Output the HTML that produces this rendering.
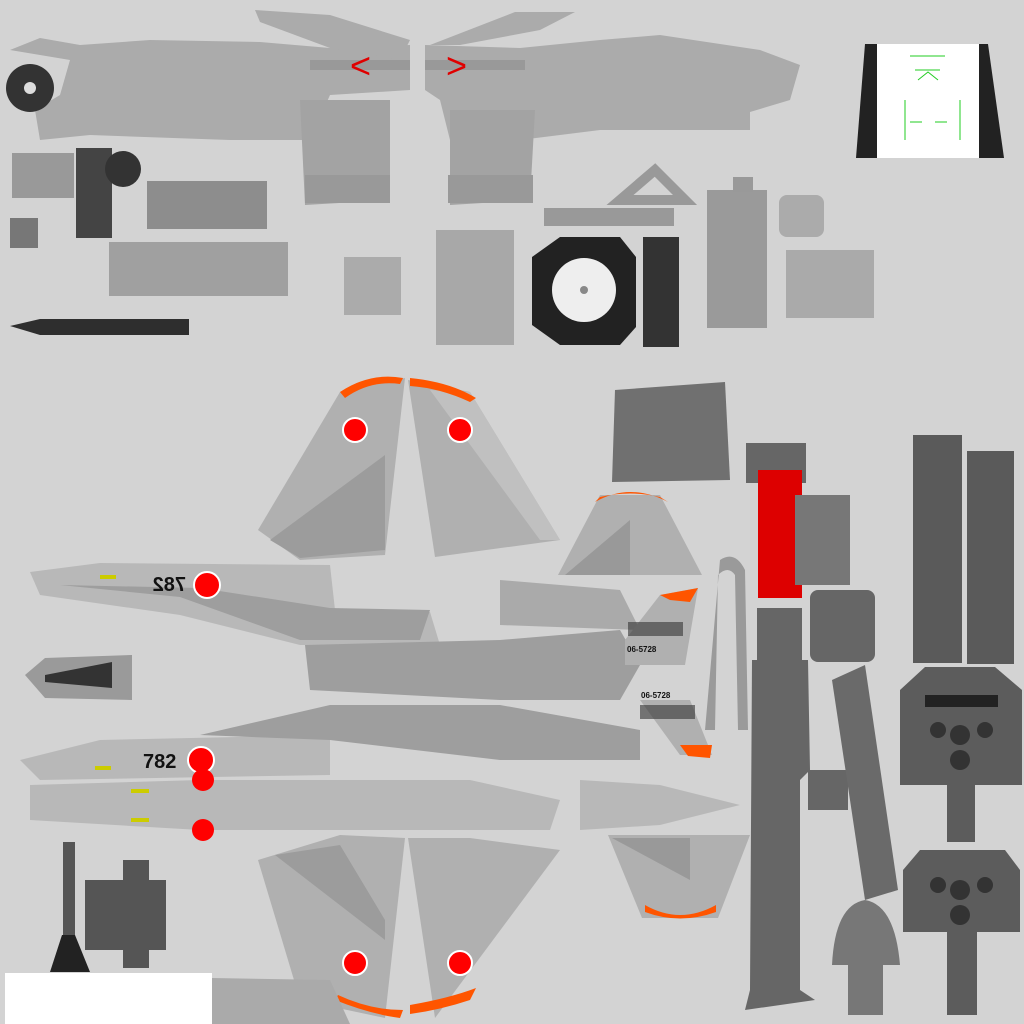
<!DOCTYPE html>
<html><head><meta charset="utf-8"><style>
html,body{margin:0;padding:0;background:#d3d3d3;width:1024px;height:1024px;overflow:hidden}
svg{display:block}
text{font-family:"Liberation Sans",sans-serif}
</style></head><body>
<svg width="1024" height="1024" viewBox="0 0 1024 1024" xmlns="http://www.w3.org/2000/svg">
<rect width="1024" height="1024" fill="#d3d3d3"/>
<g fill="#ababab">
<path d="M10,50 L40,38 L80,45 L150,40 L260,42 L330,48 L410,45 L410,90 L330,95 L310,140 L230,140 L90,135 L40,140 L35,110 L60,95 L70,60 Z"/>
<path d="M255,10 L330,15 L410,40 L400,60 L330,48 L260,22 Z"/>
<path d="M300,100 L390,100 L390,200 L305,205 Z" fill="#a3a3a3"/>
<path d="M425,45 L520,48 L600,40 L660,35 L760,50 L800,65 L790,100 L750,112 L750,130 L600,130 L520,140 L450,140 L440,100 L425,90 Z"/>
<path d="M515,12 L575,12 L540,30 L460,45 L430,45 Z"/>
<path d="M450,110 L535,110 L530,200 L450,205 Z" fill="#a3a3a3"/>
<rect x="310" y="60" width="100" height="10" fill="#999"/>
<rect x="425" y="60" width="100" height="10" fill="#999"/>
</g>
<rect x="305" y="175" width="85" height="28" fill="#999"/>
<rect x="448" y="175" width="85" height="28" fill="#999"/>
<text x="350" y="78" fill="#e00000" font-size="36">&lt;</text>
<text x="446" y="78" fill="#e00000" font-size="36">&gt;</text>
<polygon points="865,44 988,44 1004,158 856,158" fill="#222"/>
<rect x="877" y="44" width="102" height="114" fill="#fff"/>
<g stroke="#2c2" stroke-width="1" fill="none"><path d="M910,56 H945 M915,70 h25 M905,100 v40 M960,100 v40 M910,122 h12 M935,122 h12 M918,80 l10,-8 l10,8"/></g>
<circle cx="30" cy="88" r="24" fill="#333"/><circle cx="30" cy="88" r="6" fill="#ddd"/>
<rect x="12" y="153" width="62" height="45" fill="#999"/>
<rect x="76" y="148" width="36" height="90" fill="#444"/>
<circle cx="123" cy="169" r="18" fill="#333"/>
<rect x="147" y="181" width="120" height="48" fill="#8d8d8d"/>
<rect x="10" y="218" width="28" height="30" fill="#777"/>
<rect x="109" y="242" width="179" height="54" fill="#a0a0a0"/>
<polygon points="10,326 40,319 189,319 189,335 40,335" fill="#2e2e2e"/>
<rect x="344" y="257" width="57" height="58" fill="#ababab"/>
<rect x="436" y="230" width="78" height="115" fill="#a8a8a8"/>
<rect x="544" y="208" width="130" height="18" fill="#999"/>
<polygon points="620,200 655,170 685,200" fill="none" stroke="#999" stroke-width="10"/>
<polygon points="560,237 620,237 636,257 636,327 620,345 560,345 532,325 532,257" fill="#222"/>
<circle cx="584" cy="290" r="32" fill="#eee"/><circle cx="584" cy="290" r="4" fill="#888"/>
<rect x="643" y="237" width="36" height="110" fill="#333"/>
<rect x="707" y="190" width="60" height="138" fill="#9a9a9a"/>
<rect x="733" y="177" width="20" height="15" fill="#999"/>
<rect x="779" y="195" width="45" height="42" rx="8" fill="#ababab"/>
<rect x="786" y="250" width="88" height="68" fill="#aaa"/>
<!-- tails top -->
<polygon points="258,530 340,392 405,378 385,555 300,560" fill="#b0b0b0"/>
<polygon points="270,540 385,455 385,550 300,558" fill="#9c9c9c"/>
<polygon points="408,380 470,392 560,540 435,557" fill="#b0b0b0"/>
<polygon points="430,390 470,392 560,540 540,540" fill="#c0c0c0"/>
<path d="M340,392 Q370,372 403,378 L400,384 Q370,380 345,398 Z" fill="#f50"/>
<path d="M410,378 Q450,382 476,398 L470,402 Q440,388 410,386 Z" fill="#f50"/>
<circle cx="355" cy="430" r="12" fill="#f00" stroke="#fff" stroke-width="2"/>
<circle cx="460" cy="430" r="12" fill="#f00" stroke="#fff" stroke-width="2"/>
<polygon points="258,860 340,835 405,838 385,1018 300,1000" fill="#b0b0b0"/>
<polygon points="275,855 340,845 385,920 385,940" fill="#9c9c9c"/>
<polygon points="408,838 470,838 560,850 435,1018" fill="#b0b0b0"/>
<path d="M338,995 Q370,1010 403,1010 L400,1018 Q370,1014 335,1000 Z" fill="#f50"/>
<path d="M410,1005 Q450,998 476,988 L470,1000 Q440,1010 410,1014 Z" fill="#f50"/>
<circle cx="355" cy="963" r="12" fill="#f00" stroke="#fff" stroke-width="2"/>
<circle cx="460" cy="963" r="12" fill="#f00" stroke="#fff" stroke-width="2"/>
<polygon points="615,390 725,382 730,480 612,482" fill="#707070"/>
<polygon points="558,575 600,495 660,495 702,575" fill="#b0b0b0"/>
<polygon points="565,575 630,520 630,575" fill="#999"/>
<path d="M595,502 Q630,482 668,502 L660,497 Q630,490 600,497Z" fill="#f50"/>
<polygon points="608,835 750,835 718,918 642,918" fill="#b0b0b0"/>
<polygon points="612,838 690,838 690,880" fill="#999"/>
<path d="M645,905 Q680,925 716,905 L716,912 Q680,925 645,912Z" fill="#f50"/>
<g fill="#9e9e9e">
<path d="M30,572 L100,563 L330,565 L335,610 L430,612 L440,645 L300,645 L180,615 L40,595 Z" fill="#b8b8b8"/>
<path d="M60,585 L180,597 L300,640 L420,640 L430,610 L330,608 L200,588 Z"/>
<path d="M305,645 L500,640 L620,630 L640,665 L620,700 L500,700 L310,690 Z"/>
<path d="M500,580 L620,590 L640,630 L500,625 Z" fill="#aaa"/>
<path d="M20,760 L100,740 L330,735 L330,775 L40,780 Z" fill="#b8b8b8"/>
<path d="M200,735 L330,705 L500,705 L640,730 L640,760 L500,760 L330,740 Z"/>
<path d="M30,785 L200,780 L470,780 L560,800 L550,830 L200,830 L30,820 Z" fill="#b8b8b8"/>
<path d="M580,780 L660,785 L740,805 L660,825 L580,830 Z" fill="#b8b8b8"/>
</g>
<polygon points="625,640 660,595 698,588 685,665 625,665" fill="#b0b0b0"/>
<polygon points="640,700 690,700 712,755 680,755" fill="#b0b0b0"/>
<path d="M660,595 L698,588 L690,602 L670,600Z" fill="#f50"/>
<path d="M680,745 L712,745 L710,758 L688,756Z" fill="#f50"/>
<rect x="628" y="622" width="55" height="14" fill="#333" opacity="0.6"/>
<rect x="640" y="705" width="55" height="14" fill="#333" opacity="0.6"/>
<text x="627" y="652" font-size="8" font-weight="bold" fill="#111">06-5728</text>
<text x="641" y="698" font-size="8" font-weight="bold" fill="#111">06-5728</text>
<text x="148" y="591" font-size="20" font-weight="bold" fill="#111" transform="scale(-1,1) translate(-334,0)">782</text>
<text x="143" y="768" font-size="20" font-weight="bold" fill="#111">782</text>
<circle cx="207" cy="585" r="13" fill="#f00" stroke="#fff" stroke-width="2"/>
<circle cx="201" cy="760" r="13" fill="#f00" stroke="#fff" stroke-width="2"/>
<circle cx="203" cy="780" r="11" fill="#f00"/>
<circle cx="203" cy="830" r="11" fill="#f00"/>
<rect x="100" y="575" width="16" height="4" fill="#cc0"/>
<rect x="95" y="766" width="16" height="4" fill="#cc0"/>
<rect x="131" y="789" width="18" height="4" fill="#cc0"/>
<rect x="131" y="818" width="18" height="4" fill="#cc0"/>
<polygon points="25,675 45,658 132,655 132,700 45,698" fill="#9a9a9a"/>
<polygon points="45,675 112,662 112,688 45,682" fill="#333"/>
<rect x="746" y="443" width="60" height="40" fill="#666"/>
<rect x="758" y="470" width="44" height="128" fill="#d00"/>
<rect x="795" y="495" width="55" height="90" fill="#777"/>
<path d="M720,560 Q735,550 745,570 L748,730 L738,730 L735,575 Q728,565 718,575 L715,730 L705,730 Z" fill="#9a9a9a"/>
<rect x="810" y="590" width="65" height="72" rx="8" fill="#666"/>
<rect x="757" y="608" width="45" height="60" fill="#666"/>
<path d="M752,660 L808,660 L810,770 L800,780 L800,990 L815,1000 L745,1010 L750,990 Z" fill="#666"/>
<rect x="808" y="770" width="40" height="40" fill="#666"/>
<polygon points="832,680 865,665 898,890 865,900" fill="#6a6a6a"/>
<path d="M848,1015 L848,965 L832,965 Q835,905 865,900 Q895,905 900,965 L883,965 L883,1015 Z" fill="#777"/>
<rect x="913" y="435" width="49" height="228" fill="#5a5a5a"/>
<rect x="967" y="451" width="47" height="213" fill="#5a5a5a"/>
<polygon points="900,690 925,667 995,667 1022,690 1022,785 900,785" fill="#5c5c5c"/>
<rect x="947" y="785" width="28" height="57" fill="#5c5c5c"/>
<rect x="925" y="695" width="73" height="12" fill="#222"/>
<polygon points="903,870 920,850 1005,850 1020,870 1020,932 903,932" fill="#5c5c5c"/>
<rect x="947" y="932" width="30" height="83" fill="#5c5c5c"/>
<g fill="#333"><circle cx="960" cy="735" r="10"/><circle cx="985" cy="730" r="8"/><circle cx="938" cy="730" r="8"/><circle cx="960" cy="760" r="10"/><circle cx="960" cy="890" r="10"/><circle cx="985" cy="885" r="8"/><circle cx="938" cy="885" r="8"/><circle cx="960" cy="915" r="10"/></g>
<rect x="63" y="842" width="12" height="95" fill="#555"/>
<polygon points="62,935 75,935 90,972 50,972" fill="#222"/>
<rect x="85" y="880" width="81" height="70" fill="#555"/>
<rect x="123" y="860" width="26" height="108" fill="#555"/>
<rect x="5" y="973" width="207" height="51" fill="#fff"/>
<path d="M212,978 L330,980 L350,1024 L212,1024 Z" fill="#aaa"/>
</svg>
</body></html>
